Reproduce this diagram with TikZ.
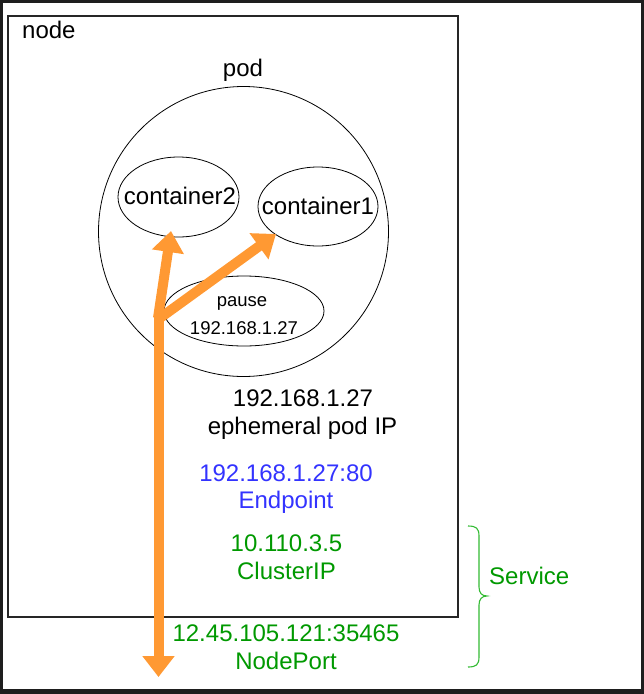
\documentclass[tikz,border=0pt]{standalone}
\usepackage{fontspec}
\setmainfont{Liberation Sans}
\usetikzlibrary{arrows.meta,shapes.geometric}
\definecolor{framedark}{HTML}{1E1E1E}
\definecolor{arrowor}{HTML}{FF9933}
\definecolor{epblue}{HTML}{3333FF}
\definecolor{svcgreen}{HTML}{009900}
\definecolor{bracegreen}{HTML}{33BB33}
\begin{document}
\begin{tikzpicture}[x=1pt,y=-1pt,
  big/.style={font=\fontsize{24}{28}\selectfont, inner sep=0pt, anchor=base},
  small/.style={font=\fontsize{18.5}{22}\selectfont, inner sep=0pt, anchor=base},
  shapeline/.style={draw=black, line width=0.8pt, inner sep=0pt, outer sep=0pt},
  flow/.style={draw=arrowor, line width=10pt, -{Triangle[width=31pt,length=21pt]}},
]
\useasboundingbox (0,0) rectangle (644,694);
\fill[framedark] (0,0) rectangle (644,694);
\fill[white] (3,3) rectangle (641,689);

% node box
\node[draw=black!85, line width=1.1pt, inner sep=0pt, outer sep=0pt,
      minimum width=450pt, minimum height=601pt, anchor=north west] (nodebox) at (8,16) {};
\node[big, anchor=base west] (nodelbl) at (22,38.5) {node};

% pod
\node[shapeline, circle, minimum size=290pt] (pod) at (243.5,231.5) {};
\node[big] (podlbl) at (243,76) {pod};

% containers
\node[shapeline, ellipse, minimum width=121pt, minimum height=80pt] (c2) at (178.5,197) {};
\node[big] (c2lbl) at (180,204) {container2};
\node[shapeline, ellipse, minimum width=120pt, minimum height=79pt] (c1) at (318,206.5) {};
\node[big] (c1lbl) at (318,214) {container1};
\node[shapeline, ellipse, minimum width=160pt, minimum height=70pt] (pause) at (244,311) {};
\node[small] (pauselbl) at (242,306) {pause};
\node[small] (pauseip) at (244,334) {192.168.1.27};

% texts
\node[big] (podip) at (303,406) {192.168.1.27};
\node[big] (ephem) at (302.5,434) {ephemeral pod IP};
\node[big, text=epblue] (epip) at (286,481) {192.168.1.27:80};
\node[big, text=epblue] (eplbl) at (286,508) {Endpoint};
\node[big, text=svcgreen] (cip) at (286.5,551) {10.110.3.5};
\node[big, text=svcgreen] (ciplbl) at (286.5,579) {ClusterIP};
\node[big, text=svcgreen] (npip) at (286,641) {12.45.105.121:35465};
\node[big, text=svcgreen] (nplbl) at (286,669) {NodePort};
\node[big, text=svcgreen, anchor=base west] (svc) at (489,584) {Service};

% brace
\coordinate (btop) at (468,526);
\coordinate (bbot) at (468,667);
\draw[bracegreen, line width=1.1pt]
  (btop) .. controls (476,526) and (479,528) .. (479,536)
  -- (479,587) .. controls (479,593) and (482,596) .. (487,596)
  .. controls (482,596) and (479,599) .. (479,605)
  -- (479,657) .. controls (479,665) and (476,667) .. (bbot);

% flows
\coordinate (forktop) at (158.5,311);
\coordinate (fork2) at (158,318);
\coordinate (fork1) at (160,318);
\coordinate (c2tip) at (171,231);
\coordinate (c1tip) at (276,234);
\coordinate (outtip) at (158.5,677);
\draw[flow] (forktop) -- (outtip);
\draw[flow] (fork2) -- (c2tip);
\draw[flow] (fork1) -- (c1tip);
\end{tikzpicture}
\end{document}
